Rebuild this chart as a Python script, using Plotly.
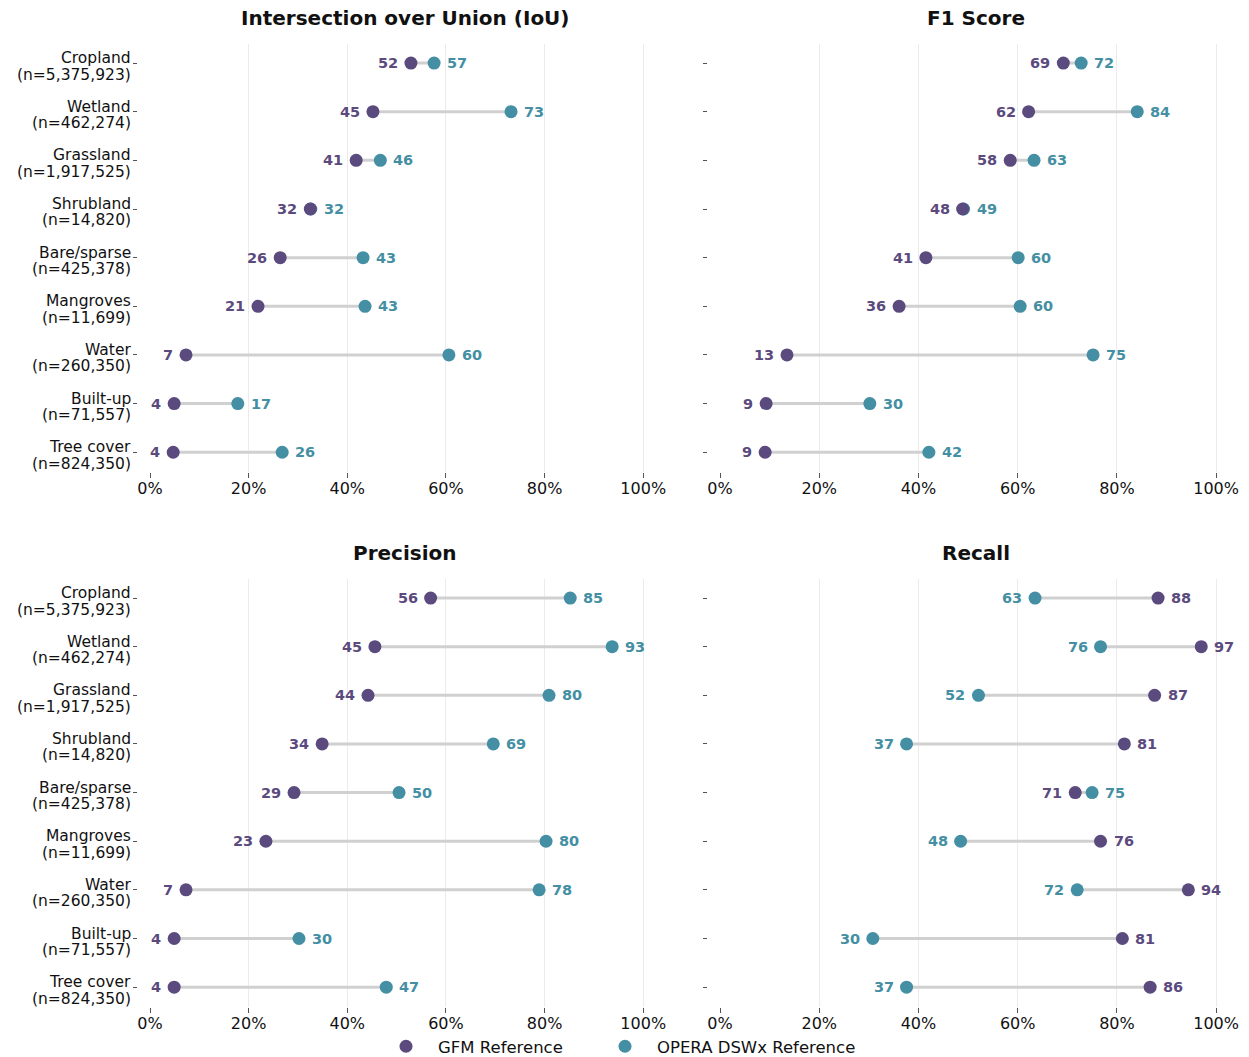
import plotly.graph_objects as go

# Land-cover classes (top to bottom) and their pixel counts
classes = ["Cropland", "Wetland", "Grassland", "Shrubland", "Bare/sparse",
           "Mangroves", "Water", "Built-up", "Tree cover"]
counts = ["5,375,923", "462,274", "1,917,525", "14,820", "425,378",
          "11,699", "260,350", "71,557", "824,350"]

# Scores in percent, per metric, for each reference dataset
iou_gfm = [52.9, 45.2, 41.8, 32.5, 26.4, 21.9, 7.3, 4.9, 4.7]
iou_opera = [57.6, 73.2, 46.7, 32.6, 43.2, 43.6, 60.6, 17.8, 26.8]

f1_gfm = [69.2, 62.2, 58.5, 48.9, 41.5, 36.1, 13.5, 9.3, 9.1]
f1_opera = [72.8, 84.1, 63.3, 49.1, 60.1, 60.5, 75.2, 30.2, 42.1]

prec_gfm = [56.9, 45.6, 44.2, 34.9, 29.2, 23.5, 7.3, 4.9, 4.9]
prec_opera = [85.2, 93.7, 80.9, 69.6, 50.5, 80.3, 78.9, 30.2, 47.9]

rec_gfm = [88.3, 97.0, 87.6, 81.5, 71.6, 76.7, 94.4, 81.1, 86.7]
rec_opera = [63.5, 76.7, 52.1, 37.6, 75.0, 48.5, 72.0, 30.8, 37.6]

titles = ["Intersection over Union (IoU)", "F1 Score", "Precision", "Recall"]
metrics = [(iou_gfm, iou_opera), (f1_gfm, f1_opera),
           (prec_gfm, prec_opera), (rec_gfm, rec_opera)]

x_ticks = [0, 20, 40, 60, 80, 100]
x_ticktext = ["0%", "20%", "40%", "60%", "80%", "100%"]

GFM_COLOR = "#5b4a7e"
OPERA_COLOR = "#448fa3"
LINE_COLOR = "#d0d0d0"
TEXT_COLOR = "#111111"
FONT = "DejaVu Sans"

W, H = 1249, 1057


def py(p):
    """Pixel row (from top) to paper y."""
    return 1 - p / H


# Panel placement in pixels: (x0, x1, y_top, y_bottom, title_y)
panels = [
    (150, 660, 43.6, 471.7, 18),
    (720, 1233, 43.6, 471.7, 18),
    (150, 660, 578.6, 1006.6, 553),
    (720, 1233, 578.6, 1006.6, 553),
]

ypos = list(range(len(classes)))
YRANGE = [8.4, -0.4]
XRANGE = [0, 103.4]

fig = go.Figure()
annotations = []

for k, ((gfm, opera), title, (px0, px1, pyt, pyb, ty)) in enumerate(zip(metrics, titles, panels)):
    sfx = "" if k == 0 else str(k + 1)
    xa, ya = "x" + sfx, "y" + sfx

    # connecting segments between the two dots of each class
    lx, ly = [], []
    for g, o, y in zip(gfm, opera, ypos):
        lx += [g, o, None]
        ly += [y, y, None]
    fig.add_trace(go.Scatter(x=lx, y=ly, mode="lines", xaxis=xa, yaxis=ya,
                             line=dict(color=LINE_COLOR, width=3),
                             showlegend=False, hoverinfo="skip"))
    fig.add_trace(go.Scatter(x=opera, y=ypos, mode="markers", xaxis=xa, yaxis=ya,
                             marker=dict(color=OPERA_COLOR, size=13),
                             name="OPERA DSWx Reference", showlegend=False))
    fig.add_trace(go.Scatter(x=gfm, y=ypos, mode="markers", xaxis=xa, yaxis=ya,
                             marker=dict(color=GFM_COLOR, size=13),
                             name="GFM Reference", showlegend=False))

    # value labels: lower value on the left, higher on the right
    for g, o, y in zip(gfm, opera, ypos):
        g_left = g <= o
        for v, col, left in ((g, GFM_COLOR, g_left), (o, OPERA_COLOR, not g_left)):
            annotations.append(dict(
                x=v, y=y, xref=xa, yref=ya, text=f"<b>{int(v)}</b>",
                showarrow=False, xanchor="right" if left else "left",
                xshift=-11 if left else 11, yshift=0,
                font=dict(family=FONT, size=14.5, color=col)))

    # class names with pixel counts, only on the left column
    if k % 2 == 0:
        for c, n, y in zip(classes, counts, ypos):
            annotations.append(dict(
                x=(px0 - 17) / W, y=y, xref="paper", yref=ya, text=c,
                showarrow=False, xanchor="right", yanchor="middle", yshift=5,
                font=dict(family=FONT, size=15.5, color=TEXT_COLOR)))
            annotations.append(dict(
                x=(px0 - 17) / W, y=y, xref="paper", yref=ya, text=f"(n={n})",
                showarrow=False, xanchor="right", yanchor="middle", yshift=-11.5,
                font=dict(family=FONT, size=15.5, color=TEXT_COLOR)))

    # panel title
    annotations.append(dict(
        x=(px0 + px1) / 2 / W, y=py(ty), xref="paper", yref="paper",
        text=f"<b>{title}</b>", showarrow=False, xanchor="center", yanchor="middle",
        font=dict(family=FONT, size=20, color=TEXT_COLOR)))

    fig.layout["xaxis" + sfx] = dict(
        domain=[px0 / W, px1 / W], anchor=ya, range=XRANGE,
        tickvals=x_ticks, ticktext=x_ticktext, automargin=False,
        showgrid=True, gridcolor="#ebebeb", gridwidth=1, zeroline=False,
        showline=False, ticks="outside", ticklen=5, tickcolor="#555555",
        ticklabelstandoff=-3,
        tickfont=dict(family=FONT, size=16, color=TEXT_COLOR))
    fig.layout["yaxis" + sfx] = dict(
        domain=[py(pyb), py(pyt)], anchor="free", position=(px0 - 13) / W,
        range=YRANGE, tickvals=ypos, ticktext=[""] * len(ypos), automargin=False,
        showgrid=False, zeroline=False, showline=False, ticks="outside",
        ticklen=4, tickcolor="#555555")

# legend entries
fig.add_trace(go.Scatter(x=[None], y=[None], mode="markers", name="GFM Reference",
                         marker=dict(color=GFM_COLOR, size=13), showlegend=True,
                         legendwidth=150))
fig.add_trace(go.Scatter(x=[None], y=[None], mode="markers", name="OPERA DSWx Reference",
                         marker=dict(color=OPERA_COLOR, size=13), showlegend=True))

fig.update_layout(
    width=W, height=H, margin=dict(l=0, r=0, t=0, b=0, autoexpand=False),
    paper_bgcolor="white", plot_bgcolor="white",
    annotations=annotations,
    legend=dict(orientation="h", x=374 / W, y=py(1046.5), xanchor="left",
                yanchor="middle",
                font=dict(family=FONT, size=16.5, color=TEXT_COLOR),
                itemwidth=54, bgcolor="rgba(0,0,0,0)"),
    font=dict(family=FONT),
)

fig.write_html("out.html")
